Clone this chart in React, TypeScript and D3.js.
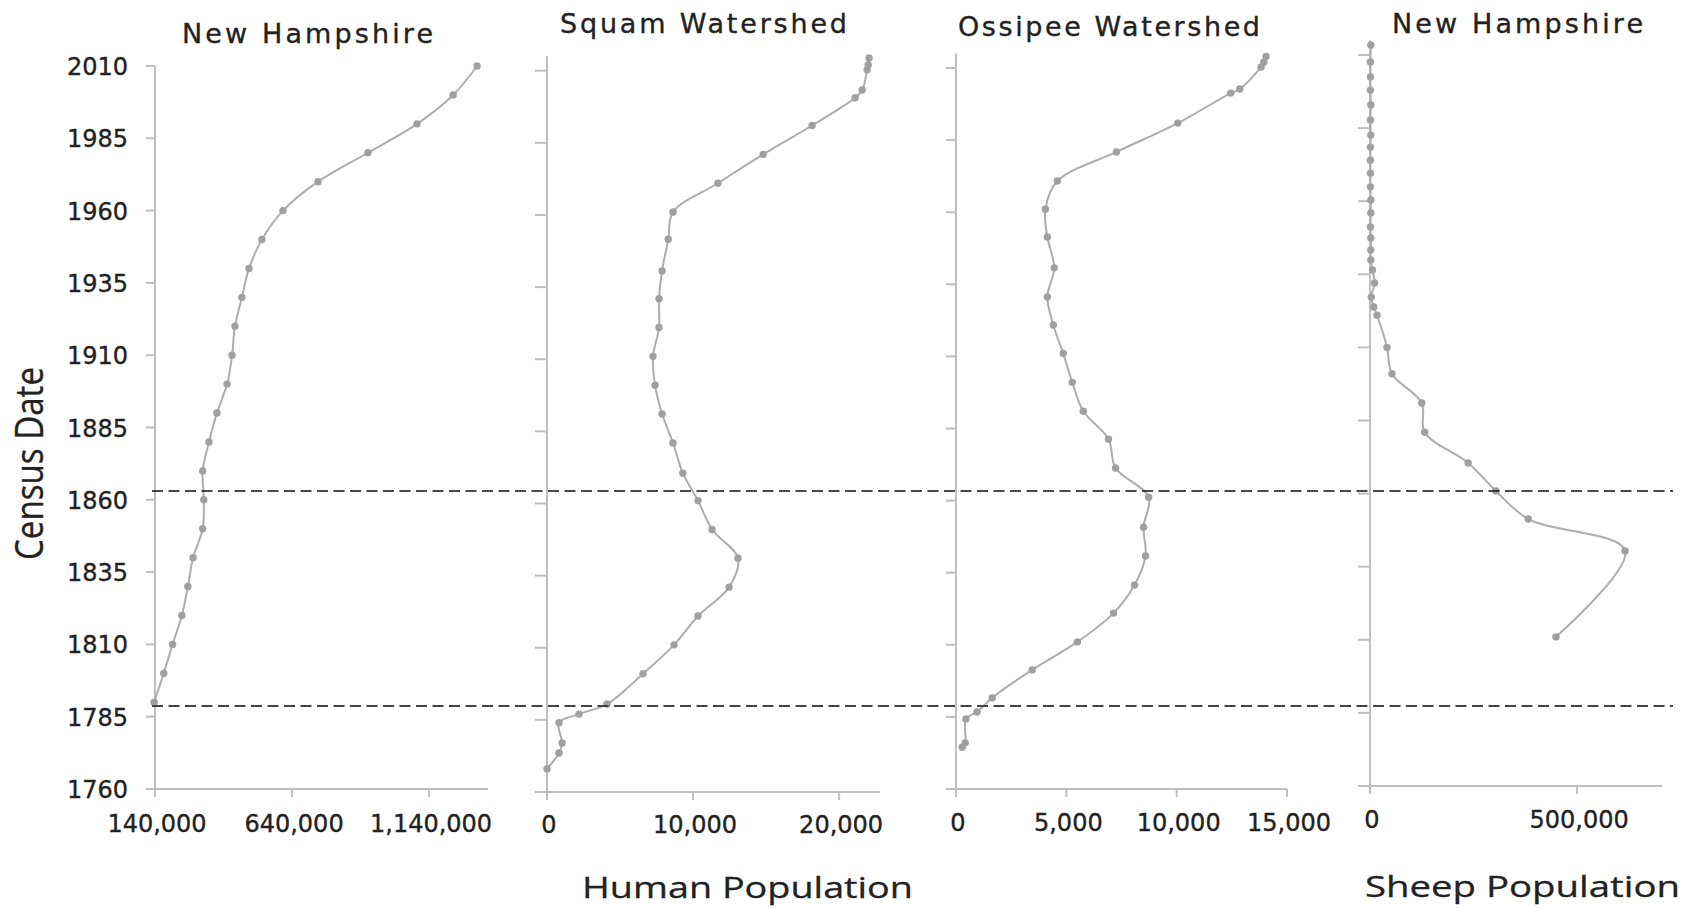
import React from "react";
import * as d3 from "d3";

// ---------- DATA ----------
// New Hampshire human population (census years)
const nhYears = [1790, 1800, 1810, 1820, 1830, 1840, 1850, 1860, 1870, 1880, 1890, 1900, 1910, 1920, 1930, 1940, 1950, 1960, 1970, 1980, 1990, 2000, 2010];
const nhHuman = [137000, 172000, 204000, 238000, 260000, 279000, 314000, 318000, 314000, 337000, 366000, 403000, 421000, 432000, 457000, 483000, 530000, 607000, 735000, 917000, 1096000, 1228000, 1315000];

// Squam watershed human population
const squamYears = [1768, 1773.5, 1777, 1784, 1787, 1790.5, 1801, 1811, 1821, 1831, 1841, 1851, 1861, 1870.5, 1881, 1891, 1901, 1911, 1921, 1931, 1940.6, 1951.6, 1961, 1971, 1981, 1991, 2000.6, 2003.3, 2010.3, 2012, 2014.4];
const squamHuman = [0, 820, 1030, 820, 2190, 4110, 6575, 8700, 10340, 12470, 13080, 11300, 10340, 9300, 8630, 7880, 7400, 7260, 7670, 7670, 7880, 8300, 8630, 11700, 14800, 18150, 21100, 21580, 21920, 21990, 22050];

// Ossipee watershed human population
const ossipeeYears = [1774.5, 1776, 1784.3, 1786.7, 1791.6, 1801.3, 1811, 1821, 1830.7, 1840.8, 1850.8, 1861.2, 1871.3, 1881.3, 1891, 1901, 1911, 1920.9, 1930.6, 1940.7, 1951.4, 1961, 1970.8, 1980.9, 1990.9, 2001.3, 2002.7, 2010.3, 2012, 2014];
const ossipeeHuman = [280, 420, 450, 950, 1640, 3450, 5500, 7140, 8090, 8590, 8500, 8730, 7230, 6910, 5770, 5270, 4860, 4410, 4140, 4450, 4140, 4050, 4590, 7270, 10050, 12450, 12860, 13820, 13950, 14050];

// New Hampshire sheep population
const sheepYears = [1811, 1840.4, 1851.3, 1860.9, 1870.5, 1881, 1891, 1901, 1910, 1921, 1923.8, 1927.2, 1932, 1936.5, 1939.9, 1943.3, 1947.4, 1951.2, 1956, 1960.4, 1964.9, 1969.6, 1974, 1978.5, 1982.6, 1987.8, 1992.9, 1998, 2002.5, 2007.6, 2013.4];
const sheepCount = [449000, 616000, 382000, 304000, 237000, 132000, 125000, 53000, 41000, 17000, 9000, 3000, 11000, 6000, 2000, 2000, 2000, 1000, 2000, 2000, 1000, 1000, 1000, 1000, 2000, 1000, 2000, 1000, 1000, 1000, 2000];

// tick values
const yearTicks = [1760, 1785, 1810, 1835, 1860, 1885, 1910, 1935, 1960, 1985, 2010];
const nhTicks = [140000, 640000, 1140000];
const squamTicks = [0, 10000, 20000];
const ossipeeTicks = [0, 5000, 10000, 15000];
const sheepTicks = [0, 500000];

// dashed reference years
const referenceYears = [1863, 1788.7];

const titles = ["New Hampshire", "Squam Watershed", "Ossipee Watershed", "New Hampshire"];
const yTitle = "Census Date";
const humanTitle = "Human Population";
const sheepTitle = "Sheep Population";

// ---------- LAYOUT ----------
const W = 1690;
const H = 909;

type Panel = {
  title: string;
  titleX: number; titleY: number; titleW: number;
  x0: number; x1: number; xDomain: [number, number]; xTicks: number[];
  yBottom: number; y2010: number; axisTopYear: number;
  axisLeftExt: number; labelBaseline: number;
  years: number[]; values: number[];
};

const panels: Panel[] = [
  { title: titles[0], titleX: 182, titleY: 43, titleW: 251, x0: 155, x1: 488, xDomain: [140000, 1355000], xTicks: nhTicks,
    yBottom: 789, y2010: 66, axisTopYear: 2010, axisLeftExt: 9, labelBaseline: 832, years: nhYears, values: nhHuman },
  { title: titles[1], titleX: 560, titleY: 33, titleW: 287, x0: 547, x1: 880, xDomain: [0, 22800], xTicks: squamTicks,
    yBottom: 792, y2010: 70.7, axisTopYear: 2015, axisLeftExt: 12, labelBaseline: 833, years: squamYears, values: squamHuman },
  { title: titles[2], titleX: 958, titleY: 36, titleW: 302, x0: 956, x1: 1287, xDomain: [0, 15000], xTicks: ossipeeTicks,
    yBottom: 789, y2010: 68, axisTopYear: 2015, axisLeftExt: 10, labelBaseline: 831, years: ossipeeYears, values: ossipeeHuman },
  { title: titles[3], titleX: 1392, titleY: 33, titleW: 251, x0: 1370, x1: 1662, xDomain: [0, 705000], xTicks: sheepTicks,
    yBottom: 786, y2010: 55, axisTopYear: 2015, axisLeftExt: 12, labelBaseline: 828, years: sheepYears, values: sheepCount },
];

const AXIS = "#bfbfbf";
const LINE = "#adadad";
const MARK = "#a0a0a0";
const TEXT = "#222";
const fmt = d3.format(",");

function PanelView({ p, showYLabels }: { p: Panel; showYLabels: boolean }) {
  const x = d3.scaleLinear().domain(p.xDomain).range([p.x0, p.x1]);
  const y = d3.scaleLinear().domain([1760, 2010]).range([p.yBottom, p.y2010]);
  const pts: [number, number][] = p.years.map((yr, i) => [x(p.values[i]), y(yr)]);
  const line = d3.line().curve(d3.curveCatmullRom.alpha(0.5));
  const yAxisTop = y(p.axisTopYear);
  const xAxisY = y(1760);
  return (
    <g>
      <text x={p.titleX} y={p.titleY} textLength={p.titleW} lengthAdjust="spacing"
        fontFamily="DejaVu Sans, Verdana, sans-serif" fontSize={27} fill={TEXT} stroke={TEXT} strokeWidth={0.35}>{p.title}</text>
      {/* y axis */}
      <line x1={p.x0} x2={p.x0} y1={yAxisTop} y2={xAxisY + 8} stroke={AXIS} strokeWidth={2} />
      {yearTicks.filter((t) => t > 1760).map((t) => (
        <line key={"yt" + t} x1={p.x0 - p.axisLeftExt} x2={p.x0} y1={y(t)} y2={y(t)} stroke={AXIS} strokeWidth={2} />
      ))}
      {showYLabels && yearTicks.map((t) => (
        <text key={"yl" + t} x={128} y={y(t) + 9} textAnchor="end" fontFamily="DejaVu Sans, Verdana, sans-serif"
          fontSize={24} fill={TEXT} stroke={TEXT} strokeWidth={0.35}>{t}</text>
      ))}
      {/* x axis */}
      <line x1={p.x0 - p.axisLeftExt} x2={p.x1} y1={xAxisY} y2={xAxisY} stroke={AXIS} strokeWidth={2} />
      {p.xTicks.map((t) => (
        <line key={"xt" + t} x1={x(t)} x2={x(t)} y1={xAxisY} y2={xAxisY + 8} stroke={AXIS} strokeWidth={2} />
      ))}
      {p.xTicks.map((t) => (
        <text key={"xl" + t} x={x(t) + 2} y={p.labelBaseline} textAnchor="middle" fontFamily="DejaVu Sans, Verdana, sans-serif"
          fontSize={24} fill={TEXT} stroke={TEXT} strokeWidth={0.35}>{fmt(t)}</text>
      ))}
      {/* data */}
      <path d={line(pts) || ""} fill="none" stroke={LINE} strokeWidth={2} />
      {pts.map((pt, i) => (
        <circle key={"m" + i} cx={pt[0]} cy={pt[1]} r={3.7} fill={MARK} />
      ))}
    </g>
  );
}

export default function App() {
  const yRef = d3.scaleLinear().domain([1760, 2010]).range([panels[0].yBottom, panels[0].y2010]);
  return (
    <svg width={W} height={H} style={{ position: "absolute", left: 0, top: 0, background: "#fff" }}>
      <rect x={0} y={0} width={W} height={H} fill="#fff" />
      {panels.map((p, i) => (
        <PanelView key={i} p={p} showYLabels={i === 0} />
      ))}
      {referenceYears.map((yr, i) => (
        <line key={"ref" + i} x1={152} x2={1673} y1={yRef(yr)} y2={yRef(yr)}
          stroke={i === 0 ? "#111" : "#444"} strokeWidth={i === 0 ? 1.5 : 2} strokeDasharray="11,5.5" />
      ))}
      <text transform="translate(43,560) rotate(-90)" x={0} y={0} textLength={193} lengthAdjust="spacingAndGlyphs"
        fontFamily="Open Sans, sans-serif" fontSize={38} fill={TEXT} stroke={TEXT} strokeWidth={0.3}>{yTitle}</text>
      <text x={582} y={898} textLength={331} lengthAdjust="spacingAndGlyphs"
        fontFamily="Open Sans, sans-serif" fontSize={30} fill={TEXT} stroke={TEXT} strokeWidth={0.3}>{humanTitle}</text>
      <text x={1365} y={897} textLength={315} lengthAdjust="spacingAndGlyphs"
        fontFamily="Open Sans, sans-serif" fontSize={30} fill={TEXT} stroke={TEXT} strokeWidth={0.3}>{sheepTitle}</text>
    </svg>
  );
}
